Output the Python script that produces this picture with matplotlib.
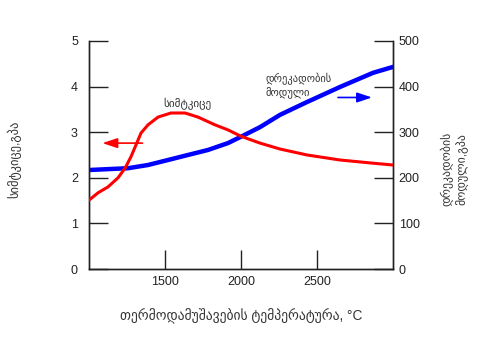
import matplotlib.pyplot as plt

plt.rcParams['font.family'] = ['Liberation Sans', 'DejaVu Sans']

# სიმტკიცე (GPa) vs თერმოდამუშავების ტემპერატურა
temp_strength = [1000, 1059, 1125, 1191, 1237, 1276, 1309, 1342, 1388, 1454, 1539,
                 1632, 1717, 1829, 1914, 2000, 2125, 2257, 2434, 2651, 2868, 3000]
strength = [1.51, 1.67, 1.80, 2.00, 2.21, 2.46, 2.72, 2.98, 3.16, 3.33, 3.42,
            3.42, 3.33, 3.16, 3.05, 2.91, 2.76, 2.63, 2.50, 2.39, 2.32, 2.28]

# დრეკადობის მოდული (GPa)
temp_modulus = [1000, 1125, 1257, 1388, 1520, 1651, 1783, 1914, 2000, 2125,
                2257, 2434, 2651, 2868, 3000]
modulus = [217, 219, 221, 228, 239, 250, 261, 276, 290, 311,
           338, 366, 399, 430, 443]

xlabel = 'თერმოდამუშავების ტემპერატურა, °C'
ylabel_left = 'სიმტკიცე,გპა'
ylabel_right = 'დრეკადობის\nმოდული,გპა'

fig = plt.figure(figsize=(5.02, 3.38), dpi=100)
ax = fig.add_axes([0.1773, 0.204, 0.6056, 0.675])
ax2 = ax.twinx()

ax.plot(temp_strength, strength, color='#ff0000', lw=2.2, zorder=3,
        solid_joinstyle='round')
ax2.plot(temp_modulus, modulus, color='#0000ff', lw=3.2, zorder=2,
         solid_joinstyle='round')
ax.set_zorder(ax2.get_zorder() + 1)
ax.patch.set_visible(False)

ax.set_xlim(1000, 3000)
ax.set_ylim(0, 5)
ax2.set_ylim(0, 500)
ax.set_xticks([1500, 2000, 2500])
ax.set_yticks([0, 1, 2, 3, 4, 5])
ax2.set_yticks([0, 100, 200, 300, 400, 500])

for a in (ax, ax2):
    a.spines['top'].set_visible(False)
    for s in a.spines.values():
        s.set_linewidth(1.0)
        s.set_color('#222222')
ax.tick_params(axis='both', direction='in', length=13.5, width=1.0,
               labelsize=9, colors='#222222')
ax.tick_params(axis='y', pad=8)
ax.tick_params(axis='x', pad=5)
ax2.tick_params(axis='y', direction='in', length=13.5, width=1.0,
                labelsize=9, colors='#222222', pad=4)

ax.set_xlabel(xlabel, fontsize=9.8, color='#333333', labelpad=15)
fig.text(0.028, 0.53, ylabel_left, rotation=90, fontsize=9, color='#333333',
         ha='center', va='center')
fig.text(0.905, 0.5, ylabel_right, rotation=90, fontsize=8.5, color='#333333',
         ha='center', va='center', linespacing=1.1)

# series labels with arrows pointing to their axes
ax.text(1645, 3.62, 'სიმტკიცე', fontsize=8, color='#333333', ha='center', va='center')
ax.annotate('', xy=(1070, 2.76), xytext=(1370, 2.76),
            arrowprops=dict(arrowstyle='-|>,head_length=0.9,head_width=0.3',
                            color='#ff0000', lw=1.2))
ax2.text(2160, 402, 'დრეკადობის\nმოდული', fontsize=7.6, color='#333333',
         ha='left', va='center', linespacing=1.15)
ax2.annotate('', xy=(2880, 376), xytext=(2620, 376),
             arrowprops=dict(arrowstyle='-|>,head_length=0.9,head_width=0.3',
                             color='#0000ff', lw=1.2))

fig.savefig('out.png', dpi=100)
